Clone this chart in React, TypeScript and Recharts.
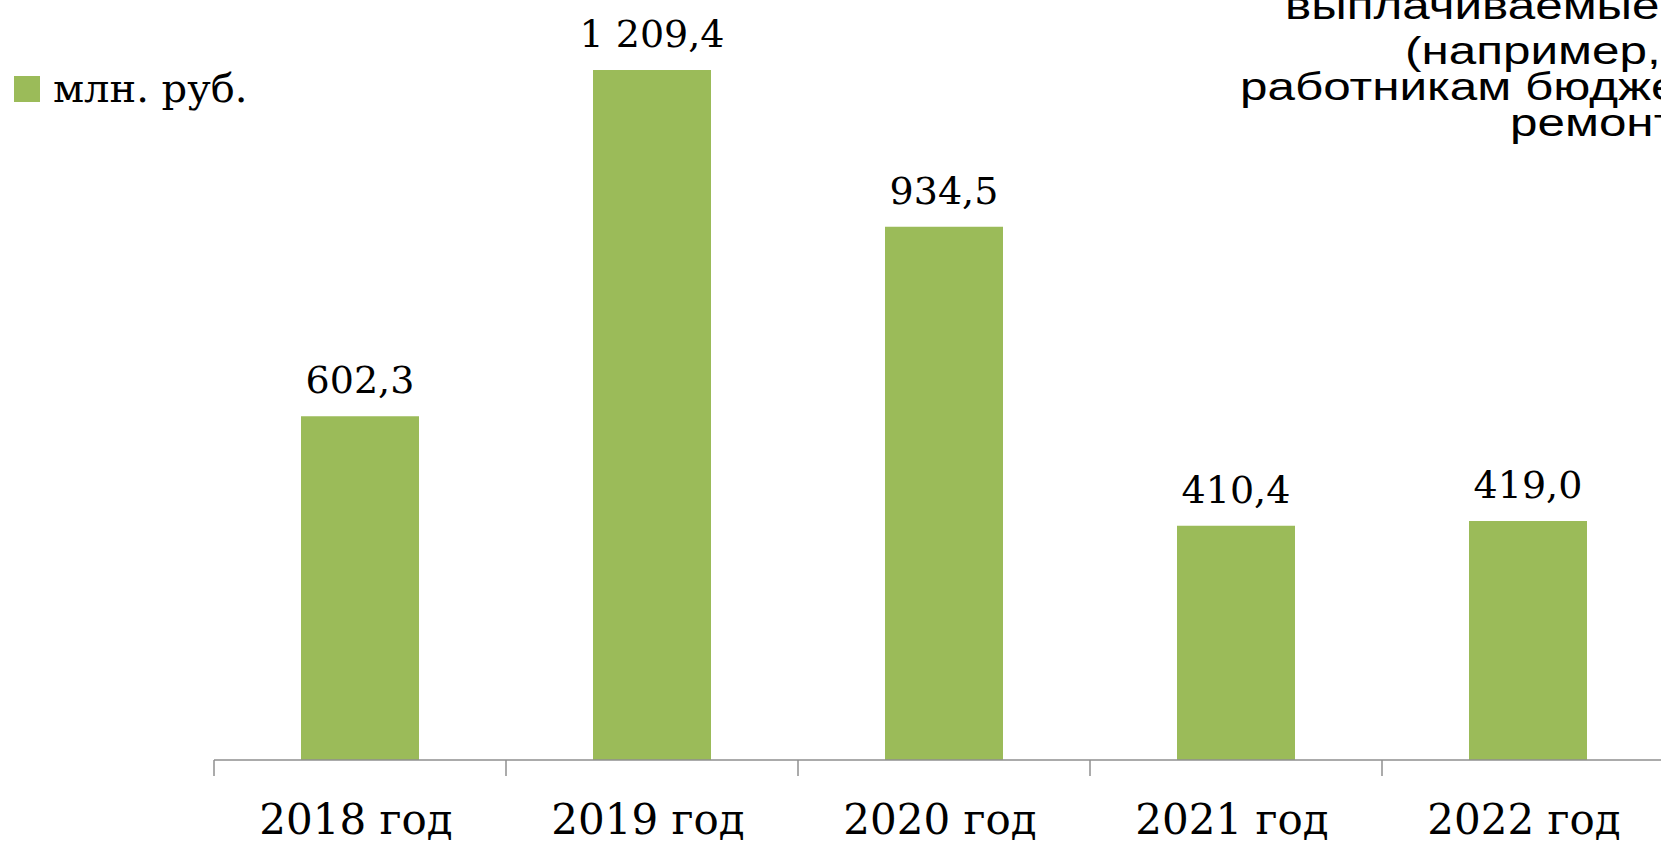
import { Bar, BarChart, LabelList, Legend, XAxis, YAxis } from "recharts";

const years = ["2018 год", "2019 год", "2020 год", "2021 год", "2022 год"];
const amounts = [602.3, 1209.4, 934.5, 410.4, 419.0];
const seriesName = "млн. руб.";
// cropped caption from a neighbouring block, visible at the top right
const captionLines = ["выплачиваемые н", "(например,", "работникам бюджетной", "ремонт"];

const data = years.map((year, i) => ({ year, amount: amounts[i] }));

const GREEN = "#9BBB59";
const AXIS = "#8f8f8f";
const SERIF = "'DejaVu Serif', serif";

const CHART_W = 1700;
const MARGIN = { top: 70, right: 26, left: 214, bottom: 0 };
const BAND = (CHART_W - MARGIN.left - MARGIN.right) / years.length;
const TICK_LEN = 16;
const LABEL_GAP = 28;

// 1209.4 -> "1 209,4"
function fmt(v: number) {
  const [int, dec] = v.toFixed(1).split(".");
  return int.replace(/\B(?=(\d{3})+(?!\d))/g, " ") + "," + dec;
}

// category label plus a tick mark on the left edge of its band (Excel style)
function YearTick(props: any) {
  const { x, y, payload } = props;
  const axisY = y - TICK_LEN - LABEL_GAP;
  const edge = x - BAND / 2;
  return (
    <g>
      <line x1={edge} y1={axisY} x2={edge} y2={axisY + TICK_LEN} stroke={AXIS} strokeWidth={1.5} />
      <text x={x - 4} y={y} dy="0.71em" textAnchor="middle" fill="#000" fontSize={42} fontFamily={SERIF}>
        {payload.value}
      </text>
    </g>
  );
}

function LegendBox() {
  return (
    <div style={{ fontFamily: SERIF, fontSize: 40, color: "#000", whiteSpace: "nowrap" }}>
      <span style={{ display: "inline-block", width: 26, height: 26, background: GREEN, marginRight: 13 }} />
      {seriesName}
    </div>
  );
}

// the caption in the source is a horizontally stretched Arial
const captionX = [1285, 1405, 1240, 1510];
const captionY = [19, 64, 100, 136];

export default function App() {
  return (
    <div style={{ position: "fixed", left: 0, top: 0, width: 1661, height: 845, overflow: "hidden", background: "#fff" }}>
      <BarChart width={CHART_W} height={845} data={data} margin={MARGIN}>
        <YAxis hide domain={[0, "dataMax"]} />
        <XAxis
          dataKey="year"
          height={85}
          axisLine={{ stroke: AXIS, strokeWidth: 1.5 }}
          tickLine={false}
          tickSize={TICK_LEN}
          tickMargin={LABEL_GAP}
          interval={0}
          tick={<YearTick />}
        />
        <Legend
          verticalAlign="middle"
          align="center"
          layout="vertical"
          wrapperStyle={{ left: 14, top: 65, width: "auto", height: "auto" }}
          content={() => <LegendBox />}
        />
        <Bar dataKey="amount" name={seriesName} fill={GREEN} barSize={118} isAnimationActive={false}>
          <LabelList
            dataKey="amount"
            position="top"
            offset={23}
            formatter={(v: any) => fmt(Number(v))}
            style={{ fill: "#000", fontSize: 38, fontFamily: SERIF }}
          />
        </Bar>
      </BarChart>
      <svg width={1661} height={845} style={{ position: "absolute", left: 0, top: 0, pointerEvents: "none" }}>
        {captionLines.map((line, i) => (
          <text
            key={i}
            transform={`translate(${captionX[i]} ${captionY[i]}) scale(1.3 1)`}
            fontFamily="'Liberation Sans', Arial, sans-serif"
            fontSize={38}
            fill="#000"
          >
            {line}
          </text>
        ))}
      </svg>
    </div>
  );
}
